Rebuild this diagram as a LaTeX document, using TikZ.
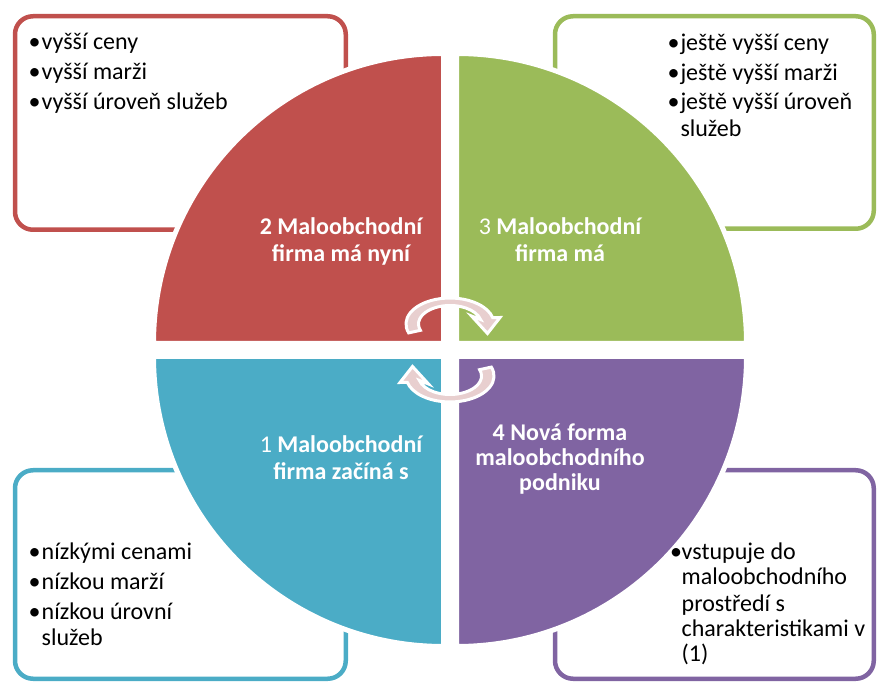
\documentclass[tikz,border=0pt]{standalone}
\usepackage{fontspec}
\setmainfont{Carlito}
\definecolor{cred}{HTML}{C0504D}
\definecolor{cgreen}{HTML}{9BBB59}
\definecolor{cblue}{HTML}{4BACC6}
\definecolor{cpurple}{HTML}{8064A2}
\definecolor{carrow}{HTML}{E8CFCF}
\newcommand{\cyclearrowpath}{(200:44 and 26) arc[start angle=200,end angle=14,x radius=44,y radius=26] -- (50,6.5) -- (37.5,-9.5) -- (21.5,8) -- (14:31.5 and 18.5) arc[start angle=14,end angle=200,x radius=31.5,y radius=18.5] -- cycle}
\begin{document}
\begin{tikzpicture}[x=1pt,y=1pt,
 box/.style={line width=4.5pt, rounded corners=18pt},
 quad/.style={draw=white, line width=5pt},
 txt/.style={inner sep=0pt, outer sep=0pt, font=\fontsize{24}{29}\selectfont, text=black},
 bul/.style={txt, anchor=base},
 item/.style={txt, anchor=base west},
 lab/.style={inner sep=0pt, outer sep=0pt, font=\fontsize{24}{27}\selectfont\bfseries, text=white, anchor=base},
 arr/.style={fill=carrow, draw=white, line width=3pt}
]
\useasboundingbox (0,0) rectangle (877,682);
% corner boxes
\draw[box, draw=cred] (15,452.25) rectangle (345.75,665.75);
\draw[box, draw=cgreen] (555,453.25) rectangle (873.75,665.75);
\draw[box, draw=cblue] (15,3.25) rectangle (345.75,211.75);
\draw[box, draw=cpurple] (555,3.25) rectangle (873.75,211.75);
% quadrants
\draw[quad, fill=cred] (443.5,338.5) -- ++(-290,0) arc[start angle=180,end angle=90,radius=290] -- cycle;
\draw[quad, fill=cgreen] (456.5,338.5) -- ++(0,290) arc[start angle=90,end angle=0,radius=290] -- cycle;
\draw[quad, fill=cblue] (443.5,325.5) -- ++(-290,0) arc[start angle=180,end angle=270,radius=290] -- cycle;
\draw[quad, fill=cpurple] (456.5,325.5) -- ++(290,0) arc[start angle=0,end angle=-90,radius=290] -- cycle;
% cycle arrows
\begin{scope}[shift={(450,358)}]
\draw[arr] \cyclearrowpath;
\end{scope}
\begin{scope}[shift={(450,306)}, rotate=180]
\draw[arr] \cyclearrowpath;
\end{scope}
% quadrant labels
\node[lab] (l2a) at (341,447) {2 Maloobchodní};
\node[lab] (l2b) at (341,420.3) {firma má nyní};
\node[lab] (l3a) at (560,447) {\textmd{3} Maloobchodní};
\node[lab] (l3b) at (560,420.3) {firma má};
\node[lab] (l1a) at (341,229.7) {\textmd{1} Maloobchodní};
\node[lab] (l1b) at (341,202.7) {firma začíná s};
\node[lab] (l4a) at (560,241) {4 Nová forma};
\node[lab] (l4b) at (560,216) {maloobchodního};
\node[lab] (l4c) at (560,191) {podniku};
% red box text
\node[bul] (rb1) at (34.5,632) {•};
\node[item] (rt1) at (41.7,632) {vyšší ceny};
\node[bul] (rb2) at (34.5,602) {•};
\node[item] (rt2) at (41.7,602) {vyšší marži};
\node[bul] (rb3) at (34.5,572) {•};
\node[item] (rt3) at (41.7,572) {vyšší úroveň služeb};
% green box text
\node[bul] (gb1) at (673.5,631.5) {•};
\node[item] (gt1) at (680.5,631.5) {ještě vyšší ceny};
\node[bul] (gb2) at (673.5,601.5) {•};
\node[item] (gt2) at (680.5,601.5) {ještě vyšší marži};
\node[bul] (gb3) at (673.5,572) {•};
\node[item] (gt3) at (680.5,572) {ještě vyšší úroveň};
\node[item] (gt4) at (680.5,545.5) {služeb};
% blue box text
\node[bul] (bb1) at (34.5,122.7) {•};
\node[item] (bt1) at (41.7,122.7) {nízkými cenami};
\node[bul] (bb2) at (34.5,92.7) {•};
\node[item] (bt2) at (41.7,92.7) {nízkou marží};
\node[bul] (bb3) at (34.5,63) {•};
\node[item] (bt3) at (41.7,63) {nízkou úrovní};
\node[item] (bt4) at (41.7,36.3) {služeb};
% purple box text
\node[bul] (pb1) at (676,122.7) {•};
\node[item] (pt1) at (681.7,122.7) {vstupuje do};
\node[item] (pt2) at (681.7,97) {maloobchodního};
\node[item] (pt3) at (681.7,70.3) {prostředí s};
\node[item] (pt4) at (681.7,45.3) {charakteristikami v};
\node[item] (pt5) at (681.7,20.3) {(1)};
\end{tikzpicture}
\end{document}
